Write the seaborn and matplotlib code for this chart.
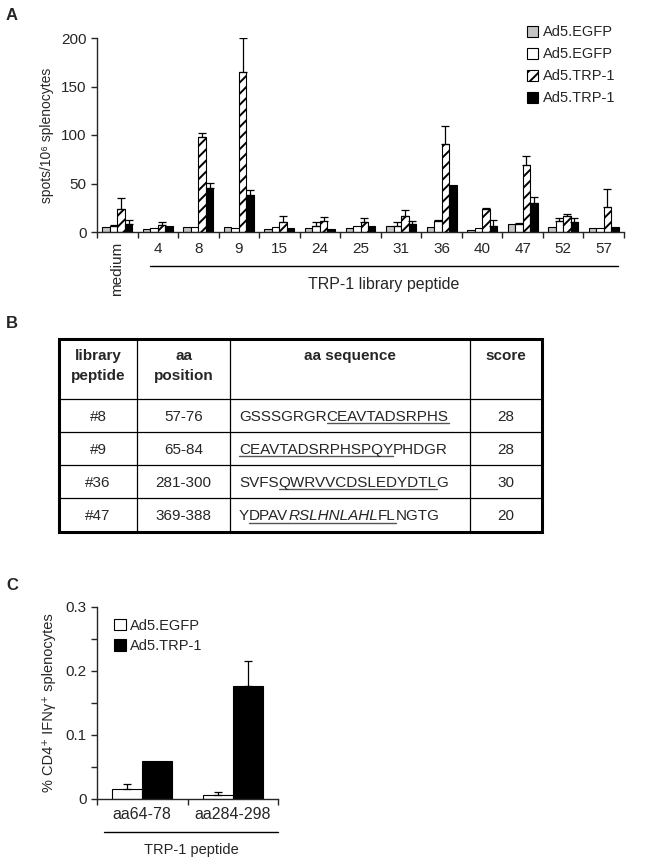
import numpy as np
import pandas as pd
import matplotlib
matplotlib.use('Agg')
import matplotlib.pyplot as plt
import matplotlib.transforms as mtransforms
from matplotlib.patches import Patch
import seaborn as sns

# ---- panel A: ELISPOT per library peptide ----
peptides = ['medium', '4', '8', '9', '15', '24', '25', '31', '36', '40', '47', '52', '57']
egfp_a = [5, 3, 5, 5, 3, 4, 4, 6, 5, 2, 8, 5, 4]
egfp_a_err = [0, 0, 0, 0, 0, 0, 0, 0, 0, 0, 0, 0, 0]
egfp_b = [6, 4, 5, 4, 5, 6, 6, 6, 11, 4, 8, 11, 4]
egfp_b_err = [1, 0, 0, 0, 0, 4, 0, 4, 1, 0, 1, 3, 0]
trp1_a = [24, 7, 98, 165, 10, 11, 10, 17, 91, 24, 69, 16, 26]
trp1_a_err = [11, 3, 4, 35, 7, 4, 4, 6, 18, 1, 9, 3, 18]
trp1_b = [8, 6, 45, 38, 4, 3, 6, 8, 48, 6, 30, 10, 5]
trp1_b_err = [4, 0, 6, 5, 0, 0, 0, 3, 0, 6, 6, 4, 0]
series_a = ['egfp_a', 'egfp_b', 'trp1_a', 'trp1_b']
legend_a = ['Ad5.EGFP', 'Ad5.EGFP', 'Ad5.TRP-1', 'Ad5.TRP-1']

# ---- panel B: table ----
table_header = ['library\npeptide', 'aa\nposition', 'aa sequence', 'score']
table_ids = ['#8', '#9', '#36', '#47']
table_pos = ['57-76', '65-84', '281-300', '369-388']
table_scores = ['28', '28', '30', '20']
# (text, underlined, italic)
table_seqs = [
    [('GSSSGRGR', False, False), ('CEAVTADSRPHS', True, False)],
    [('CEAVTADSRPHSPQY', True, False), ('PHDGR', False, False)],
    [('SVFS', False, False), ('QWRVVCDSLEDYDTL', True, False), ('G', False, False)],
    [('Y', False, False), ('DPAV', True, False), ('RSLHNLAHL', True, True),
     ('FL', True, False), ('NGTG', False, False)],
]

# ---- panel C: intracellular IFNg ----
c_peptides = ['aa64-78', 'aa284-298']
c_egfp = [0.015, 0.007]
c_egfp_err = [0.008, 0.0035]
c_trp1 = [0.060, 0.177]
c_trp1_err = [0.0, 0.038]

sns.set_style('ticks')
plt.rcParams['font.family'] = ['Liberation Sans', 'DejaVu Sans']
plt.rcParams['hatch.linewidth'] = 1.4
plt.rcParams['axes.linewidth'] = 1.0

fig = plt.figure(figsize=(6.52, 8.61), dpi=100)
W, H = 652, 861

# table axes in pixel units (added first so it sits underneath)
axT = fig.add_axes([0, 0, 1, 1])
axT.set_xlim(0, W)
axT.set_ylim(H, 0)
axT.axis('off')

axA = fig.add_axes([97 / W, 1 - 232 / H, 527 / W, 194 / H])
axC = fig.add_axes([97 / W, 1 - 799 / H, 181 / W, 192 / H])

# ---------------- panel A ----------------
dfA = pd.DataFrame({
    'peptide': peptides * 4,
    'series': np.repeat(series_a, len(peptides)),
    'value': egfp_a + egfp_b + trp1_a + trp1_b,
})
colors_a = {'egfp_a': '#c4c4c4', 'egfp_b': 'white', 'trp1_a': 'white', 'trp1_b': 'black'}
hatches_a = ['', '', '///', '']
errs_a = [egfp_a_err, egfp_b_err, trp1_a_err, trp1_b_err]

sns.barplot(data=dfA, x='peptide', y='value', hue='series', order=peptides,
            hue_order=series_a, palette=colors_a, saturation=1, errorbar=None,
            edgecolor='black', linewidth=0.8, width=0.74, gap=0, legend=False, ax=axA)

for cont, hatch, errs in zip(axA.containers, hatches_a, errs_a):
    for bar, e in zip(cont, errs):
        bar.set_hatch(hatch)
        if e > 0:
            axA.errorbar(bar.get_x() + bar.get_width() / 2, bar.get_height(),
                         yerr=[[0], [e]], fmt='none', ecolor='black',
                         elinewidth=0.9, capsize=3, capthick=0.9, zorder=1)

axA.set_ylim(0, 200)
axA.set_yticks([0, 50, 100, 150, 200])
axA.set_xlim(-0.5, len(peptides) - 0.5)
axA.set_xticks(range(len(peptides)))
axA.set_xticklabels(peptides, fontsize=11)
axA.set_xticks(np.arange(-0.5, len(peptides), 1), minor=True)
axA.tick_params(axis='x', which='major', length=0, pad=7)
axA.tick_params(axis='x', which='minor', length=4, width=1, direction='out')
axA.tick_params(axis='y', labelsize=11, length=4, width=1, direction='out')
lab0 = axA.get_xticklabels()[0]
lab0.set_rotation(90)
lab0.set_va('top')
axA.set_xlabel('')
axA.set_ylabel('spots/10\u2076 splenocytes', fontsize=10, labelpad=5)
sns.despine(ax=axA)

transA = mtransforms.blended_transform_factory(axA.transData, axA.transAxes)
x0, x1 = 1 - 0.2, len(peptides) - 1 + 0.36
axA.plot([x0, x1], [-0.175, -0.175], color='black', lw=1.0, transform=transA, clip_on=False)
axA.text((x0 + x1) / 2, -0.27, 'TRP-1 library peptide', transform=transA,
         ha='center', va='center', fontsize=11.5)

handlesA = [Patch(facecolor=colors_a[s], edgecolor='black', hatch=h, linewidth=0.8)
            for s, h in zip(series_a, hatches_a)]
axA.legend(handlesA, legend_a, loc='upper right', bbox_to_anchor=(0.995, 1.095),
           frameon=False, fontsize=10.5, handlelength=0.75, handleheight=0.75,
           handletextpad=0.35, labelspacing=0.55, borderaxespad=0)

# ---------------- panel C ----------------
dfC = pd.DataFrame({
    'peptide': c_peptides * 2,
    'group': ['Ad5.EGFP'] * 2 + ['Ad5.TRP-1'] * 2,
    'value': c_egfp + c_trp1,
})
sns.barplot(data=dfC, x='peptide', y='value', hue='group', order=c_peptides,
            hue_order=['Ad5.EGFP', 'Ad5.TRP-1'],
            palette={'Ad5.EGFP': 'white', 'Ad5.TRP-1': 'black'}, saturation=1,
            errorbar=None, edgecolor='black', linewidth=0.8, width=0.66, gap=0,
            legend=False, ax=axC)
for cont, errs in zip(axC.containers, [c_egfp_err, c_trp1_err]):
    for bar, e in zip(cont, errs):
        if e > 0:
            axC.errorbar(bar.get_x() + bar.get_width() / 2, bar.get_height(),
                         yerr=[[0], [e]], fmt='none', ecolor='black',
                         elinewidth=0.9, capsize=3, capthick=0.9, zorder=1)

axC.set_ylim(0, 0.3)
axC.set_yticks([0, 0.1, 0.2, 0.3])
axC.set_yticklabels(['0', '0.1', '0.2', '0.3'])
axC.set_yticks(np.arange(0.05, 0.3, 0.1), minor=True)
axC.set_xlim(-0.5, len(c_peptides) - 0.5)
axC.set_xticks(range(len(c_peptides)))
axC.set_xticklabels(c_peptides, fontsize=11.5)
axC.set_xticks(np.arange(-0.5, len(c_peptides), 1), minor=True)
axC.tick_params(axis='x', which='major', length=0, pad=6)
axC.tick_params(axis='x', which='minor', length=4, width=1, direction='out')
axC.tick_params(axis='y', which='both', labelsize=11, length=4, width=1, direction='out')
axC.set_xlabel('')
axC.set_ylabel('% CD4\u207a IFN\u03b3\u207a splenocytes', fontsize=10.5, labelpad=7)
sns.despine(ax=axC)

transC = mtransforms.blended_transform_factory(axC.transData, axC.transAxes)
axC.plot([-0.42, 1.5], [-0.172, -0.172], color='black', lw=1.0, transform=transC, clip_on=False)
axC.text(0.54, -0.265, 'TRP-1 peptide', transform=transC, ha='center', va='center',
         fontsize=10.5)
handlesC = [Patch(facecolor=c, edgecolor='black', linewidth=0.8) for c in ['white', 'black']]
axC.legend(handlesC, ['Ad5.EGFP', 'Ad5.TRP-1'], loc='upper left',
           bbox_to_anchor=(0.06, 0.97), frameon=False, fontsize=10.5,
           handlelength=0.85, handleheight=0.85, handletextpad=0.3,
           labelspacing=0.45, borderaxespad=0)

# ---------------- panel B table ----------------
col_x = [59, 137, 230, 470, 542]
row_y = [339, 399, 432, 465, 498, 532]
for x in col_x[1:-1]:
    axT.plot([x, x], [row_y[0], row_y[-1]], color='black', lw=0.9)
for y in row_y[1:-1]:
    axT.plot([col_x[0], col_x[-1]], [y, y], color='black', lw=0.9)
axT.plot([col_x[0], col_x[-1], col_x[-1], col_x[0], col_x[0]],
         [row_y[0], row_y[0], row_y[-1], row_y[-1], row_y[0]],
         color='black', lw=2.2, solid_joinstyle='miter')

tfs = 11
for i, h in enumerate(table_header):
    axT.text((col_x[i] + col_x[i + 1]) / 2, row_y[0] + 10, h, ha='center', va='top',
             fontsize=tfs, fontweight='bold', linespacing=1.55)

fig.canvas.draw()
renderer = fig.canvas.get_renderer()
for r in range(len(table_ids)):
    base = (row_y[r + 1] + row_y[r + 2]) / 2 + 5.5
    axT.text((col_x[0] + col_x[1]) / 2, base, table_ids[r], ha='center', va='baseline', fontsize=tfs)
    axT.text((col_x[1] + col_x[2]) / 2, base, table_pos[r], ha='center', va='baseline', fontsize=tfs)
    axT.text((col_x[3] + col_x[4]) / 2, base, table_scores[r], ha='center', va='baseline', fontsize=tfs)
    x = col_x[2] + 9
    for seg, under, ital in table_seqs[r]:
        t = axT.text(x, base, seg, ha='left', va='baseline', fontsize=tfs,
                     fontstyle='italic' if ital else 'normal')
        w = t.get_window_extent(renderer).width
        if under:
            axT.plot([x, x + w], [base + 2, base + 2], color='#555555', lw=1.0)
        x += w

# panel letters
for lab, (px, py) in zip(['A', 'B', 'C'], [(12, 15), (12, 323), (12, 585)]):
    fig.text(px / W, 1 - py / H, lab, ha='center', va='center', fontsize=12, fontweight='bold')

fig.savefig('out.png', dpi=100)
